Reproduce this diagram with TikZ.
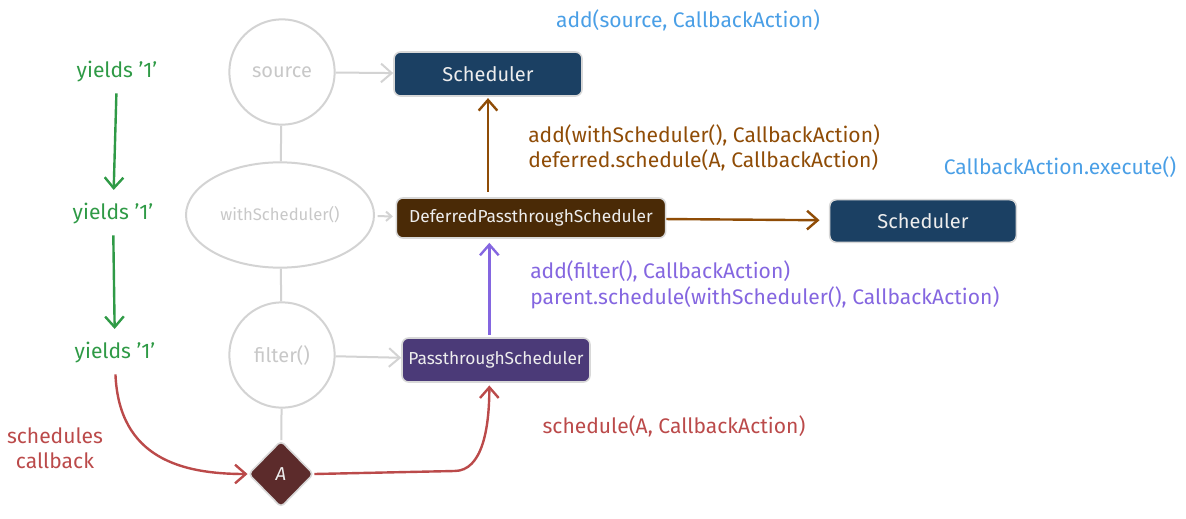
\documentclass[tikz,border=0pt]{standalone}
\usepackage{fontspec}
\setmainfont{Fira Sans}
\usetikzlibrary{shapes, arrows.meta, positioning}
\definecolor{opgray}{HTML}{D3D3D3}
\definecolor{optext}{HTML}{C8C8C8}
\definecolor{boxgray}{HTML}{D8D8D8}
\definecolor{boxtext}{HTML}{EDEDED}
\definecolor{schedblue}{HTML}{1B4063}
\definecolor{defbrown}{HTML}{4A2A06}
\definecolor{passpurple}{HTML}{4B3A78}
\definecolor{adark}{HTML}{5C2B2B}
\definecolor{callbrown}{HTML}{8F4C06}
\definecolor{callpurple}{HTML}{8466E0}
\definecolor{callred}{HTML}{BB4A4A}
\definecolor{callgreen}{HTML}{2F9A46}
\definecolor{callblue}{HTML}{4A9FE6}
\tikzstyle{op} = [draw=opgray, line width=1.5pt, circle, text=optext, inner sep=0pt, minimum size=79pt, font=\fontsize{15}{17}\selectfont]
\tikzstyle{block} = [draw=boxgray, line width=1.2pt, rounded corners=5pt, text=boxtext, inner sep=0pt, minimum height=33pt, font=\fontsize{13}{15}\selectfont]
\tikzstyle{note} = [inner sep=0pt, font=\fontsize{15.8}{19}\selectfont]
\tikzstyle{link} = [line width=1.5pt, opgray]
\tikzstyle{flow} = [line width=1.8pt]

\begin{document}
\begin{tikzpicture}[x=0.75pt, y=-0.75pt, >={Straight Barb[length=8pt, width=14pt]}]
  \useasboundingbox (0,0) rectangle (1186,518);
  \node[op] (source) at (282,72) {source};
  \node[op, ellipse, minimum width=141pt, minimum height=79pt, font=\fontsize{12.5}{15}\selectfont] (withsched) at (280,215) {withScheduler()};
  \node[op] (filter) at (282,355) {filter()};
  \node[diamond, draw=boxgray, fill=adark, line width=1.2pt, rounded corners=3pt, inner sep=0pt, minimum width=49pt, minimum height=50pt, text=boxtext, font=\fontsize{14}{16}\selectfont] (A) at (281,474) {\textit{A}};
  \node[block, fill=schedblue, minimum width=141pt, font=\fontsize{15}{17}\selectfont] (sched) at (488,74) {Scheduler};
  \node[block, fill=defbrown, minimum width=202pt, minimum height=30pt] (deferred) at (531,218) {DeferredPassthroughScheduler};
  \node[block, fill=schedblue, minimum width=140pt, minimum height=32pt, font=\fontsize{15}{17}\selectfont] (sched2) at (923,221) {Scheduler};
  \node[block, fill=passpurple, minimum width=141pt] (pass) at (496,360) {PassthroughScheduler};

  \node[note, text=callgreen] (yield1) at (117,72) {yields '1'};
  \node[note, text=callgreen] (yield2) at (113,214) {yields '1'};
  \node[note, text=callgreen] (yield3) at (115,353) {yields '1'};
  \node[note, text=callred, align=center] (schedcb) at (55,448) {schedules\\callback};
  \node[note, text=callblue] (addsource) at (688,20) {add(source, CallbackAction)};
  \node[note, text=callbrown, align=left, anchor=west] (adddeferred) at (528,148) {add(withScheduler(), CallbackAction)\\deferred.schedule(A, CallbackAction)};
  \node[note, text=callblue] (execute) at (1060,167) {CallbackAction.execute()};
  \node[note, text=callpurple, align=left, anchor=west] (addfilter) at (530,285) {add(filter(), CallbackAction)\\parent.schedule(withScheduler(), CallbackAction)};
  \node[note, text=callred] (scheduleA) at (674,426) {schedule(A, CallbackAction)};

  \draw[link] (source) -- (withsched);
  \draw[link] (withsched) -- (filter);
  \draw[link] (filter) -- (A);
  \draw[link, ->] (source) -- (sched);
  \draw[link, -{Straight Barb[length=4pt, width=7pt]}, shorten <=2pt, shorten >=2pt] (withsched) -- (deferred);
  \draw[link, ->] (filter) -- (pass);

  \draw[flow, callgreen, ->, shorten <=8pt, shorten >=10pt] (yield1) -- (yield2);
  \draw[flow, callgreen, ->, shorten <=8pt, shorten >=10pt] (yield2) -- (yield3);
  \draw[flow, callbrown, ->, shorten <=4pt, shorten >=1pt] (sched.south |- deferred.north) -- (sched.south);
  \draw[flow, callbrown, ->, shorten >=7pt] (deferred) -- (sched2);
  \draw[flow, callpurple, ->, shorten <=2pt, shorten >=3pt] ([xshift=-5pt]pass.north) -- ([xshift=-5pt]pass.north |- deferred.south);
  \draw[flow, callred, ->, shorten <=8pt] (yield3.south) .. controls +(4,95) and +(-65,0) .. (A.west);
  \draw[flow, callred, ->, shorten >=2pt] (A.east) -- ++(140,-3) .. controls +(28,0) and +(0,45) .. ([xshift=-5pt]pass.south);
\end{tikzpicture}
\end{document}
